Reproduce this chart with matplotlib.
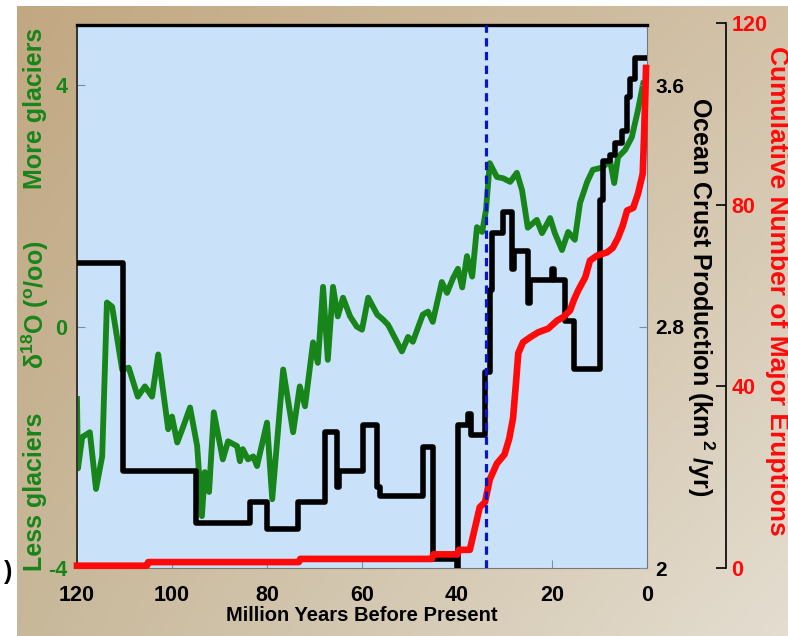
import matplotlib.pyplot as plt
import numpy as np

plt.rcParams['font.family'] = ['Liberation Sans', 'DejaVu Sans']
plt.rcParams['font.weight'] = 'bold'
plt.rcParams['axes.labelweight'] = 'bold'
plt.rcParams['axes.unicode_minus'] = False
plt.rcParams['mathtext.fontset'] = 'custom'
plt.rcParams['mathtext.rm'] = 'Liberation Sans:bold'
plt.rcParams['mathtext.default'] = 'rm'

##################### data #####################

# delta 18O (per mil)
o18_age = [120.0, 119.8, 118.9, 117.3, 116.0, 114.7, 113.7, 112.6, 110.5, 109.1,
           107.2, 105.7, 104.2, 102.9, 100.8, 100.0, 98.9, 97.7, 96.2, 94.7,
           93.7, 93.1, 92.2, 91.2, 89.3, 88.2, 86.3, 85.7, 85.1, 84.0,
           82.9, 82.1, 80.0, 78.9, 76.6, 74.5, 73.1, 72.0, 70.3, 69.3,
           68.2, 67.2, 66.1, 65.1, 64.0, 62.5, 61.1, 60.0, 58.7, 56.8,
           55.6, 54.5, 51.6, 50.3, 49.3, 47.2, 46.1, 45.1, 43.2, 42.1,
           40.8, 39.8, 38.9, 37.9, 36.8, 35.8, 34.7, 33.9, 33.1, 31.6,
           30.3, 28.8, 27.4, 26.3, 25.1, 23.2, 22.1, 20.4, 19.4, 17.9,
           16.6, 15.2, 14.1, 12.6, 11.4, 9.3, 7.8, 6.9, 6.1, 4.6,
           3.2, 1.9, 0.8]
o18_val = [-1.2, -2.35, -1.83, -1.75, -2.69, -2.15, 0.40, 0.33, -0.71, -0.68,
           -1.16, -0.99, -1.16, -0.46, -1.70, -1.49, -1.92, -1.67, -1.34, -1.98,
           -3.14, -2.41, -2.74, -1.42, -2.20, -1.90, -1.98, -2.23, -2.03, -2.20,
           -2.15, -2.31, -1.59, -2.86, -0.71, -1.75, -0.99, -1.32, -0.26, -0.60,
           0.66, -0.55, 0.66, 0.17, 0.48, 0.17, 0.0, -0.05, 0.48, 0.20,
           0.12, 0.03, -0.41, -0.17, -0.25, 0.20, 0.25, 0.08, 0.74, 0.56,
           0.81, 0.96, 0.65, 1.17, 0.83, 1.65, 1.57, 1.93, 2.71, 2.48,
           2.46, 2.40, 2.55, 2.26, 1.64, 1.77, 1.55, 1.80, 1.55, 1.27,
           1.57, 1.44, 2.05, 2.40, 2.60, 2.64, 2.76, 2.38, 2.81, 2.93,
           3.14, 3.59, 4.03]

# ocean crust production (km2/yr), value holds from age to next age
crust_age = [120, 110.3, 94.9, 83.6, 80.0, 73.5, 67.8, 65.3, 64.8, 59.8,
             56.8, 56.2, 47.2, 45.1, 40.0, 39.8, 37.6, 37.1, 34.1, 33.1,
             32.6, 30.3, 28.4, 28.0, 25.1, 24.7, 20.0, 19.6, 17.3, 15.4,
             9.9, 9.3, 7.8, 6.7, 5.3, 4.2, 3.6, 2.5, 0]
crust_val = [3.01, 2.32, 2.15, 2.22, 2.13, 2.22, 2.45, 2.27, 2.32, 2.475,
             2.27, 2.24, 2.40, 2.03, 2.00, 2.475, 2.51, 2.44, 2.65, 2.92,
             3.11, 3.18, 2.99, 3.05, 2.88, 2.955, 2.99, 2.955, 2.82, 2.66,
             3.22, 3.35, 3.37, 3.41, 3.45, 3.56, 3.62, 3.69, 3.69]

# cumulative number of major eruptions
erupt_age = [120, 105.3, 105.0, 73.3, 73.0, 45.3, 45.0, 39.9, 39.6, 37.3,
             36.3, 35.2, 34.1, 33.1, 31.6, 30.0, 29.0, 28.2, 27.6, 27.1,
             26.1, 24.6, 22.9, 20.8, 18.9, 17.7, 16.2, 15.4, 14.5, 13.0,
             12.0, 10.5, 8.4, 7.2, 6.1, 5.1, 4.2, 2.9, 1.9, 0.9,
             0.6, 0.4, 0.2]
erupt_cnt = [0.5, 0.5, 1.3, 1.3, 2.0, 2.0, 3.0, 3.0, 4.0, 4.0,
             8.5, 13.4, 14.5, 19.5, 23.0, 25.0, 28.5, 33.0, 40.5, 47.3,
             49.7, 50.8, 51.9, 52.7, 54.5, 55.2, 56.7, 59.0, 61.1, 64.0,
             67.7, 68.8, 69.5, 70.5, 72.7, 75.4, 78.7, 79.3, 82.4, 86.8,
             95.6, 102.9, 110.1]

eo_boundary = 33.9  # Eocene / Oligocene

x_ticks = [120, 100, 80, 60, 40, 20, 0]
o18_ticks = [-4, 0, 4]
crust_ticks = [2, 2.8, 3.6]
crust_labels = ['2', '2.8', '3.6']
erupt_ticks = [0, 40, 80, 120]

green = '#17851a'
red = '#ff0a0a'

##################### figure #####################

fig = plt.figure(figsize=(7.88, 6.36), dpi=100)
fig.patch.set_facecolor('white')

# tan gradient background, white strip on top and left
bg = fig.add_axes([17/788, 0, 771/788, 630/636], zorder=-10)
gx, gy = np.meshgrid(np.linspace(0, 1, 200), np.linspace(0, 1, 200))
c_tl = np.array([194, 168, 130]) / 255
c_tr = np.array([210, 194, 168]) / 255
c_bl = np.array([200, 184, 154]) / 255
c_br = np.array([228, 221, 208]) / 255
img = ((1-gx)*(1-gy))[..., None]*c_tl + (gx*(1-gy))[..., None]*c_tr \
    + ((1-gx)*gy)[..., None]*c_bl + (gx*gy)[..., None]*c_br
bg.imshow(img, aspect='auto', extent=[0, 1, 0, 1], origin='upper')
bg.axis('off')

L, B, W, H = 77/788, 68/636, 570/788, 543/636
ax = fig.add_axes([L, B, W, H])
ax.set_facecolor('#c9e2f9')
ax.plot(o18_age, o18_val, color=green, lw=4.2, solid_joinstyle='round')
ax.set_xlim(120, 0)
ax.set_ylim(-4, 5)
ax.set_xticks(x_ticks)
ax.set_yticks(o18_ticks)
ax.tick_params(direction='in', length=6, width=0.8, color='#7e8ea2', labelsize=15.5)
ax.tick_params(axis='x', pad=12, labelcolor='black')
ax.tick_params(axis='y', pad=7, labelcolor=green, labelsize=15.5)
ax.spines['top'].set_linewidth(2.4)
ax.spines['left'].set_linewidth(1.4)
ax.spines['left'].set_color('#333333')
ax.spines['right'].set_color('#777777')
ax.spines['bottom'].set_color('#777777')
ax.set_xlabel('Million Years Before Present', fontsize=14.5, labelpad=0)

ax2 = ax.twinx()
ax2.step(crust_age, crust_val, where='post', color='black', lw=4.0,
         solid_joinstyle='round', solid_capstyle='round')
ax2.set_ylim(2, 3.8)
ax2.set_yticks(crust_ticks)
ax2.set_yticklabels(crust_labels)
ax2.tick_params(direction='in', length=6, width=0.8, color='#7e8ea2',
                labelsize=15, pad=6)
for s in ax2.spines.values():
    s.set_visible(False)

# eruptions axis: own axes, spine pushed out to the right
ax3 = fig.add_axes([L, B, W, 545/636])
ax3.patch.set_visible(False)
ax3.plot(erupt_age, erupt_cnt, color=red, lw=4.8, solid_joinstyle='round',
         clip_on=False)
ax3.axvline(eo_boundary, ymax=543/545, color='#0a14c8', lw=2.3, ls=(0, (2.6, 1.7)))
ax3.set_xlim(120, 0)
ax3.set_ylim(0, 120)
ax3.set_xticks([])
ax3.yaxis.tick_right()
ax3.set_yticks(erupt_ticks)
for k in ['top', 'bottom', 'left']:
    ax3.spines[k].set_visible(False)
ax3.spines['right'].set_position(('axes', 649/570))
ax3.spines['right'].set_linewidth(1.2)
ax3.tick_params(axis='y', direction='in', length=7, width=1.2, color='black',
                labelcolor=red, labelsize=15.5, pad=4)

# axis titles
fig.text(35/788, 1-108/636, 'More glaciers', color=green, rotation=90,
         ha='center', va='center', fontsize=18, fontweight='bold')
fig.text(35/788, 1-305/636, r'$\delta^{18}$O ($^{\rm o}$/oo)', color=green,
         rotation=90, ha='center', va='center', fontsize=18, fontweight='bold')
fig.text(35/788, 1-492/636, 'Less glaciers', color=green, rotation=90,
         ha='center', va='center', fontsize=18, fontweight='bold')
fig.text(701/788, 1-297/636, r'Ocean Crust Production (km$^{\,2}$ /yr)',
         color='black', rotation=270, ha='center', va='center', fontsize=18,
         fontweight='bold')
fig.text(777/788, 1-291/636, 'Cumulative Number of Major Eruptions',
         color=red, rotation=270, ha='center', va='center', fontsize=19,
         fontweight='bold')
fig.text(8/788, 1-572/636, ')', color='black', ha='center', va='center',
         fontsize=18, fontweight='bold')

plt.savefig('out.png', dpi=100)
